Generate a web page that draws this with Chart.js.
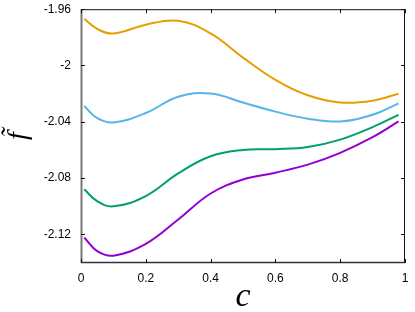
<!DOCTYPE html>
<html>
<head>
<meta charset="utf-8">
<script src="https://cdn.jsdelivr.net/npm/chart.js@4"></script>
<style>
  html, body { margin: 0; padding: 0; background: #fff; }
  #wrap { width: 415px; height: 312px; }
</style>
</head>
<body>
<div id="wrap"><canvas id="chart" width="415" height="312"></canvas></div>
<script>
const cValues = [0.01, 0.05, 0.1, 0.2, 0.3, 0.4, 0.5, 0.6, 0.7, 0.8, 0.9, 0.98];

const orangeF = [-1.9668, -1.9740, -1.9773, -1.9710, -1.9682, -1.9772, -1.9944, -2.0102, -2.0212, -2.0263, -2.0250, -2.0201];
const blueF   = [-2.0288, -2.0375, -2.0405, -2.0338, -2.0222, -2.0200, -2.0263, -2.0328, -2.0378, -2.0398, -2.0350, -2.0269];
const greenF  = [-2.0880, -2.0965, -2.1001, -2.0928, -2.0767, -2.0645, -2.0600, -2.0595, -2.0580, -2.0527, -2.0438, -2.0351];
const purpleF = [-2.1223, -2.1320, -2.1352, -2.1268, -2.1095, -2.0910, -2.0810, -2.0762, -2.0705, -2.0621, -2.0510, -2.0398];

const xTicks = [0, 0.2, 0.4, 0.6, 0.8, 1];
const xTickLabels = ['0', '0.2', '0.4', '0.6', '0.8', '1'];
const yTicks = [-1.96, -2, -2.04, -2.08, -2.12];
const yTickLabels = ['-1.96', '-2', '-2.04', '-2.08', '-2.12'];

function series(ys, color) {
	return {
		data: cValues.map((c, i) => ({ x: c, y: ys[i] })),
		borderColor: color,
		borderWidth: 2,
		pointRadius: 0,
		fill: false,
		tension: 0.4
	};
}

// frame round the plot area, with inward ticks on all four sides
const frameTicks = {
	id: 'frameTicks',
	afterDraw(chart) {
		const { ctx, chartArea: { left, right, top, bottom } } = chart;
		const xs = chart.scales.x, ys = chart.scales.y;
		const len = 4;
		ctx.save();
		ctx.lineWidth = 1;
		ctx.strokeStyle = '#111';
		ctx.beginPath();
		ctx.moveTo(left, top + 0.5); ctx.lineTo(right, top + 0.5);
		ctx.moveTo(right - 0.5, top); ctx.lineTo(right - 0.5, bottom);
		ctx.stroke();
		ctx.lineWidth = 1.5;
		ctx.strokeStyle = '#333';
		ctx.beginPath();
		ctx.moveTo(left, bottom - 0.5); ctx.lineTo(right, bottom - 0.5);
		ctx.stroke();
		ctx.strokeStyle = '#777';
		ctx.lineWidth = 2;
		ctx.beginPath();
		ctx.moveTo(left + 0.5, top); ctx.lineTo(left + 0.5, bottom);
		ctx.stroke();

		ctx.lineWidth = 1;
		ctx.strokeStyle = '#111';
		ctx.beginPath();
		xTicks.forEach(v => {
			const px = Math.round(xs.getPixelForValue(v)) + 0.5;
			ctx.moveTo(px, bottom); ctx.lineTo(px, bottom - len);
			ctx.moveTo(px, top); ctx.lineTo(px, top + len);
		});
		yTicks.forEach(v => {
			const py = Math.round(ys.getPixelForValue(v)) + 0.5;
			ctx.moveTo(left, py); ctx.lineTo(left + len, py);
			ctx.moveTo(right, py); ctx.lineTo(right - len, py);
		});
		ctx.stroke();
		ctx.restore();
	}
};

new Chart(document.getElementById('chart'), {
	type: 'line',
	data: {
		datasets: [
			series(orangeF, '#E69F00'),
			series(blueF, '#56B4E9'),
			series(greenF, '#009E73'),
			series(purpleF, '#9400D3')
		]
	},
	options: {
		responsive: false,
		animation: false,
		layout: { padding: { left: 0, right: 10, top: 7, bottom: 0 } },
		plugins: { legend: { display: false }, tooltip: { enabled: false } },
		scales: {
			x: {
				type: 'linear',
				min: 0,
				max: 1,
				grid: { display: false },
				border: { display: false },
				afterBuildTicks(scale) { scale.ticks = xTicks.map(v => ({ value: v })); },
				afterFit(scale) { scale.height = 49; },
				ticks: {
					padding: 0,
					color: '#000',
					font: { family: 'Liberation Sans, Arial, sans-serif', size: 12 },
					callback(value) { return xTickLabels[xTicks.indexOf(value)]; }
				},
				title: {
					display: true,
					text: 'c',
					color: '#000',
					font: { family: 'Liberation Serif, Times New Roman, serif', size: 34, style: 'italic' },
					padding: { top: 0, bottom: -5 }
				}
			},
			y: {
				type: 'linear',
				min: -2.1404,
				max: -1.96,
				grid: { display: false },
				border: { display: false },
				afterBuildTicks(scale) { scale.ticks = yTicks.map(v => ({ value: v })); },
				afterFit(scale) { scale.width = 81; },
				ticks: {
					padding: 2,
					color: '#000',
					font: { family: 'Liberation Sans, Arial, sans-serif', size: 12 },
					callback(value) { return yTickLabels[yTicks.indexOf(value)]; }
				},
				title: {
					display: true,
					text: 'f\u0303',
					color: '#000',
					font: { family: 'Liberation Serif, Times New Roman, serif', size: 28, style: 'italic' },
					padding: { top: 2, bottom: 0 }
				}
			}
		}
	},
	plugins: [frameTicks]
});
</script>
</body>
</html>
